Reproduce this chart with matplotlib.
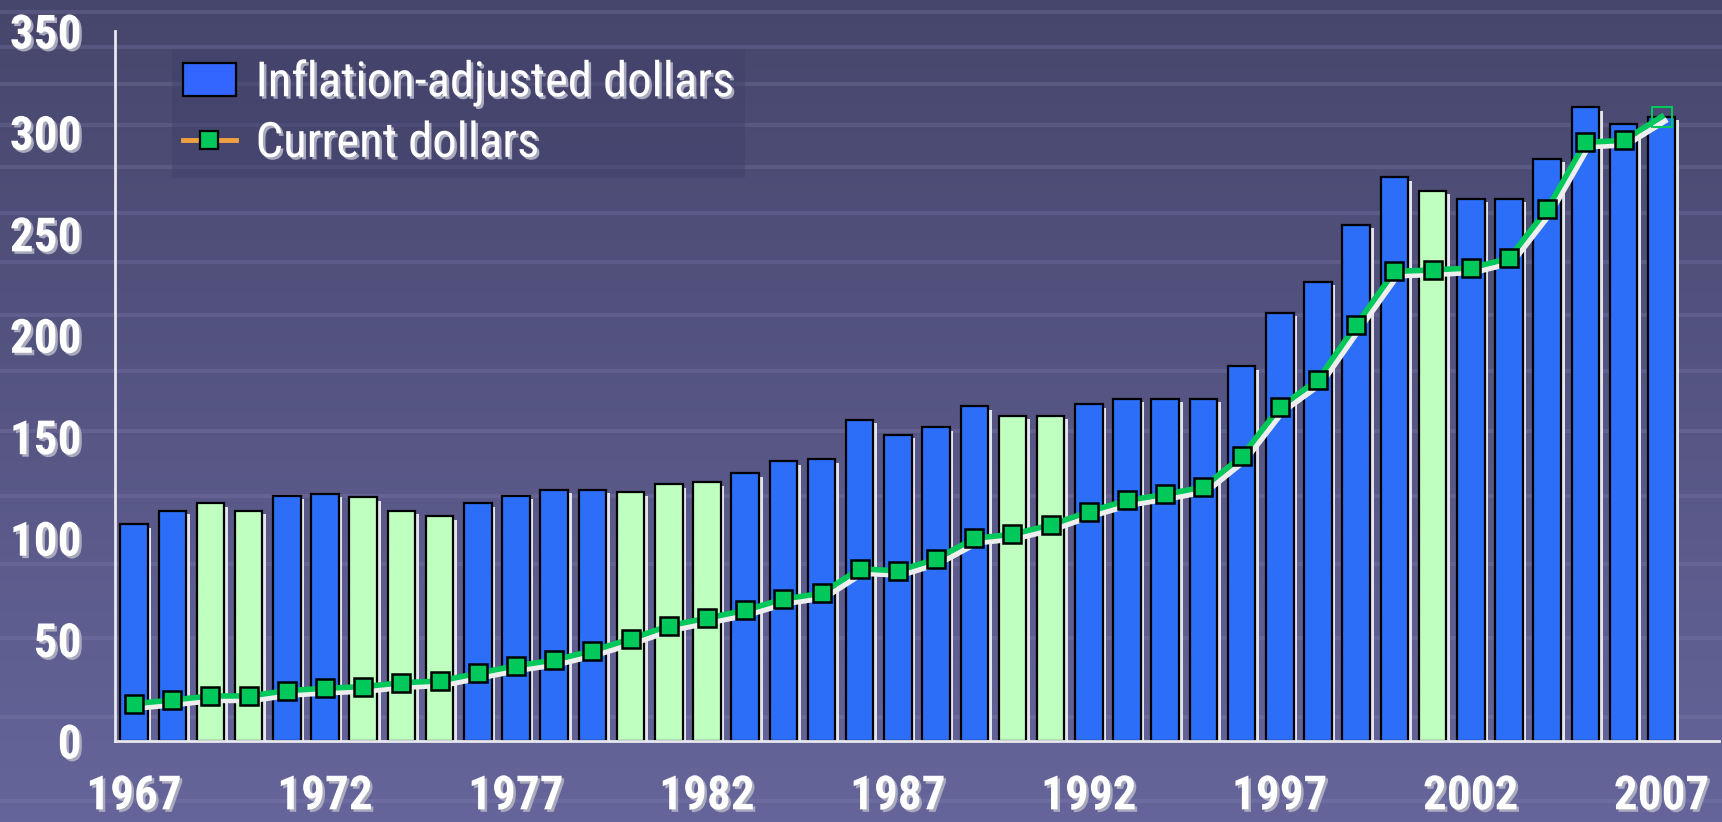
import numpy as np
import matplotlib
matplotlib.use("Agg")
import matplotlib.pyplot as plt
import matplotlib.patheffects as pe
from matplotlib.patches import Patch
from matplotlib.lines import Line2D

# data
years = list(range(1967, 2008))
adjusted = [107.0, 113.5, 117.3, 113.5, 120.9, 121.9, 120.1, 113.5, 110.8, 117.3,
            120.9, 123.9, 123.9, 122.7, 126.5, 127.5, 132.1, 138.0, 138.8, 158.4,
            151.0, 154.8, 165.1, 160.4, 160.4, 166.0, 168.7, 168.7, 168.7, 184.8,
            211.1, 226.4, 254.5, 277.8, 271.3, 267.4, 267.4, 287.0, 312.5, 304.0,
            307.8]
current = [18.4, 20.2, 22.2, 22.2, 24.8, 26.0, 26.8, 28.7, 29.6, 33.4,
           37.1, 39.9, 44.5, 50.3, 56.8, 60.6, 64.4, 70.0, 72.8, 84.9,
           83.9, 89.7, 99.9, 101.9, 106.5, 113.1, 118.6, 121.6, 125.2, 140.3,
           164.6, 178.2, 205.1, 231.5, 232.2, 233.2, 237.9, 262.2, 295.1, 296.1,
           307.8]
recession = [1969, 1970, 1973, 1974, 1975, 1980, 1981, 1982, 1990, 1991, 2001]
yticks = [0, 50, 100, 150, 200, 250, 300, 350]
labels = ["Inflation-adjusted dollars", "Current dollars"]

BLUE = "#2c6ef8"
LIGHT = "#bfffbf"
GREEN = "#00c85a"
FONT = ["Roboto Condensed", "IBM Plex Sans Condensed", "DejaVu Sans"]

txt_fx = [pe.SimplePatchShadow(offset=(1.8, -1.8), shadow_rgbFace="#a9a9bd", alpha=1),
          pe.Normal()]

fig = plt.figure(figsize=(17.22, 8.22), dpi=100)

# background: slide-template gradient with faint horizontal bands
bg = fig.add_axes([0, 0, 1, 1], zorder=-5)
grad = np.linspace(0, 1, 256)[:, None]
top = np.array([0x46, 0x46, 0x6c]) / 255
bot = np.array([0x66, 0x65, 0x9b]) / 255
img = top + (bot - top) * grad[..., None]
bg.imshow(img, extent=[0, 1, 0, 1], aspect="auto", origin="upper")
yb, step = 1 - 12 / 822, 35 / 822
while yb > 0:
    bg.axhline(yb, color="#8685b6", lw=3, alpha=0.25)
    yb -= step
    step *= 1.07
bg.set_xlim(0, 1)
bg.set_ylim(0, 1)
bg.axis("off")

ax = fig.add_axes([115 / 1722, 1 - 741 / 822, 1604 / 1722, 710 / 822])
ax.patch.set_alpha(0)

x = np.arange(len(years))
colors = [LIGHT if y in recession else BLUE for y in years]

ax.bar(x, adjusted, width=0.72, color=colors, edgecolor="black", linewidth=1.6,
       zorder=2,
       path_effects=[pe.SimplePatchShadow(offset=(2.6, -2.6), shadow_rgbFace="#e4e4ec", alpha=1),
                     pe.Normal()])

ax.plot(x, current, color=GREEN, lw=4, zorder=3, solid_joinstyle="round",
        path_effects=[pe.SimpleLineShadow(offset=(2.2, -3.2), shadow_color="#eeeeee", alpha=1),
                      pe.Normal()])
ax.plot(x[:-1], current[:-1], ls="none", marker="s", ms=13, mfc=GREEN, mec="black",
        mew=1.8, zorder=4)
ax.plot(x[-1:], current[-1:], ls="none", marker="s", ms=14, mfc="none", mec=GREEN,
        mew=1.5, zorder=4)

ax.set_xlim(-0.5, 41.5)
ax.set_ylim(0, 350)
ax.set_yticks(yticks)
ax.set_xticks(x[::5])
ax.set_xticklabels([str(y) for y in years[::5]])
ax.tick_params(length=0)
ax.tick_params(axis="y", pad=24)
ax.tick_params(axis="x", pad=24)
for t in ax.get_xticklabels() + ax.get_yticklabels():
    t.set_fontfamily(FONT)
    t.set_fontweight("bold")
    t.set_fontsize(34)
    t.set_color("white")
    t.set_path_effects(txt_fx)

for s in ["top", "right"]:
    ax.spines[s].set_visible(False)
for s in ["left", "bottom"]:
    ax.spines[s].set_color("#e8e8f0")
    ax.spines[s].set_linewidth(2)

handles = [Patch(facecolor="#3366ff", edgecolor="black", linewidth=1.6),
           Line2D([0], [0], color="#f0a040", lw=3.5, marker="s", ms=13,
                  mfc=GREEN, mec="black", mew=1.6)]
leg = fig.legend(handles, labels, loc="upper left",
                 bbox_to_anchor=(172 / 1722, 1 - 49 / 822),
                 prop={"family": FONT, "size": 35},
                 frameon=True, facecolor="#3f3f6a", edgecolor="none", framealpha=0.45,
                 fancybox=False, handlelength=1.1, handleheight=0.66,
                 handletextpad=0.4, borderpad=0.22, labelspacing=0.29,
                 borderaxespad=0)
for t in leg.get_texts():
    t.set_color("white")
    t.set_path_effects(txt_fx)

fig.savefig("out.png", dpi=100)
